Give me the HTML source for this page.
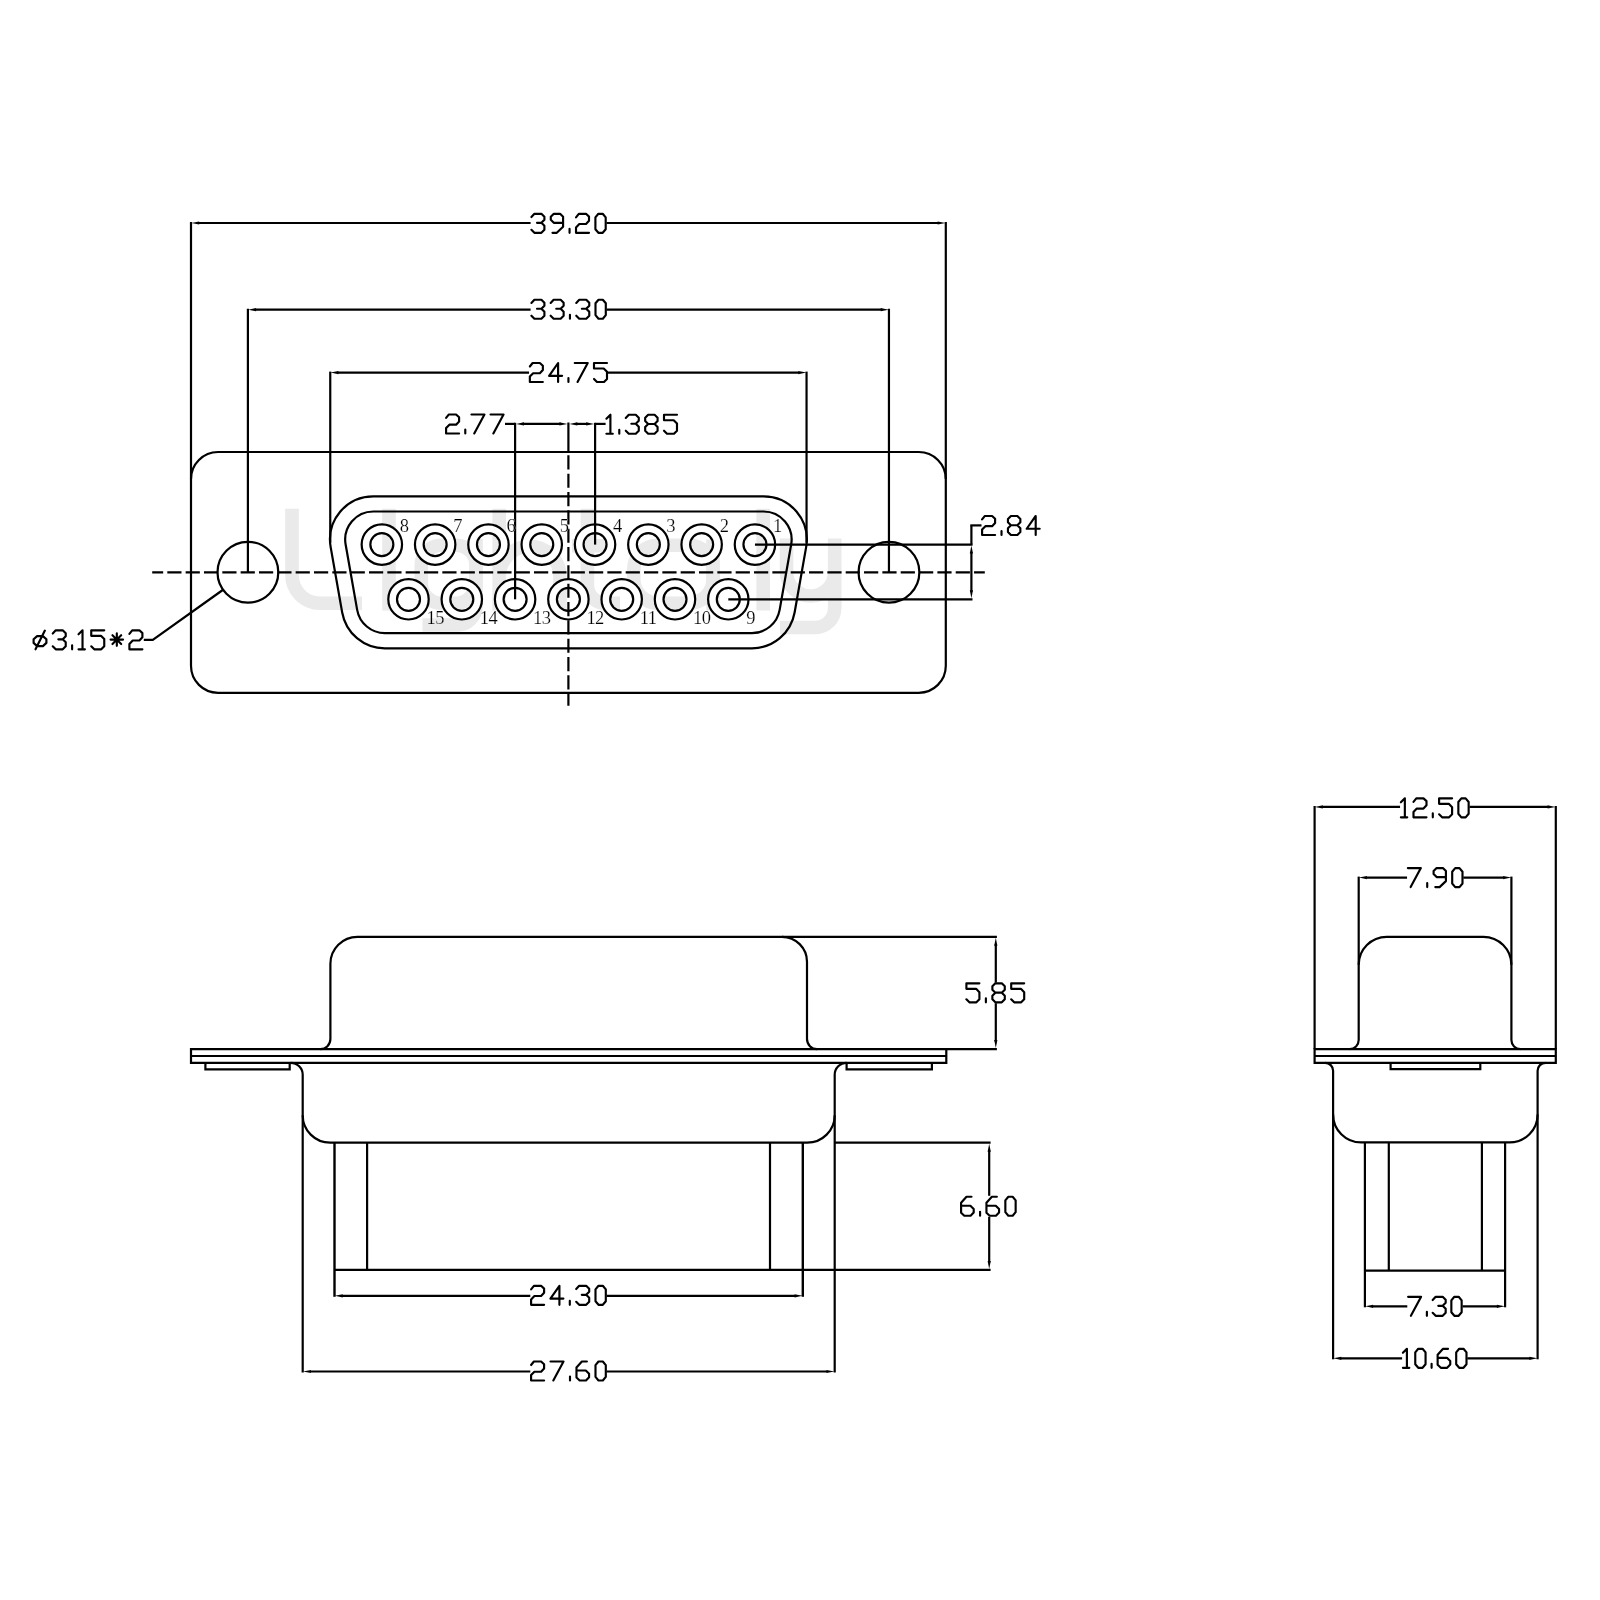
<!DOCTYPE html>
<html><head><meta charset="utf-8"><style>
html,body{margin:0;padding:0;background:#fff;}
body{width:1600px;height:1600px;overflow:hidden;}
svg{display:block;will-change:transform;}
</style></head><body>
<svg width="1600" height="1600" viewBox="0 0 1600 1600">
<rect width="1600" height="1600" fill="#fff"/>
<g fill="none" stroke="#eaeaea" stroke-width="13.6">
<path d="M292,508.75 L292,575 A28,28 0 0 0 320,603.2 L362,603.2"/>
<path d="M389,508.75 L389,610.5"/>
<path d="M476,539 L476,606 A19,19 0 0 1 457,625 L422.5,625"/>
<path d="M499.2,508.75 L499.2,610.5 M499.2,576.6 A30.4,30.4 0 0 1 560,576.6 L560,610.5"/>
<path d="M587.4,508.75 L587.4,585 A18,18 0 0 0 605.4,603.2 L620,603.2 M572,545.7 L614,545.7"/>
<path d="M713,539.5 L713,610.5"/>
<path d="M763.2,508.75 L763.2,610.5"/>
<path d="M786.5,538.6 L786.5,571.9 A24.1,24.1 0 0 0 834.7,571.9 M834.7,538.6 L834.7,608 A19.5,19.5 0 0 1 815.2,627.5 L780,627.5"/>
<rect x="421.3" y="545.2" width="54.7" height="58" rx="20" ry="20"/>
<rect x="633.8" y="545.2" width="79.2" height="58" rx="24" ry="24"/>
</g>
<path d="M361.65,544.6 a20.2,20.2 0 1 0 40.4,0 a20.2,20.2 0 1 0 -40.4,0 Z M370.35,544.6 a11.5,11.5 0 1 0 23,0 a11.5,11.5 0 1 0 -23,0 Z" fill="#fff" fill-rule="evenodd"/>
<path d="M414.95,544.6 a20.2,20.2 0 1 0 40.4,0 a20.2,20.2 0 1 0 -40.4,0 Z M423.65,544.6 a11.5,11.5 0 1 0 23,0 a11.5,11.5 0 1 0 -23,0 Z" fill="#fff" fill-rule="evenodd"/>
<path d="M468.25,544.6 a20.2,20.2 0 1 0 40.4,0 a20.2,20.2 0 1 0 -40.4,0 Z M476.95,544.6 a11.5,11.5 0 1 0 23,0 a11.5,11.5 0 1 0 -23,0 Z" fill="#fff" fill-rule="evenodd"/>
<path d="M521.55,544.6 a20.2,20.2 0 1 0 40.4,0 a20.2,20.2 0 1 0 -40.4,0 Z M530.25,544.6 a11.5,11.5 0 1 0 23,0 a11.5,11.5 0 1 0 -23,0 Z" fill="#fff" fill-rule="evenodd"/>
<path d="M574.85,544.6 a20.2,20.2 0 1 0 40.4,0 a20.2,20.2 0 1 0 -40.4,0 Z M583.55,544.6 a11.5,11.5 0 1 0 23,0 a11.5,11.5 0 1 0 -23,0 Z" fill="#fff" fill-rule="evenodd"/>
<path d="M628.15,544.6 a20.2,20.2 0 1 0 40.4,0 a20.2,20.2 0 1 0 -40.4,0 Z M636.85,544.6 a11.5,11.5 0 1 0 23,0 a11.5,11.5 0 1 0 -23,0 Z" fill="#fff" fill-rule="evenodd"/>
<path d="M681.45,544.6 a20.2,20.2 0 1 0 40.4,0 a20.2,20.2 0 1 0 -40.4,0 Z M690.15,544.6 a11.5,11.5 0 1 0 23,0 a11.5,11.5 0 1 0 -23,0 Z" fill="#fff" fill-rule="evenodd"/>
<path d="M734.75,544.6 a20.2,20.2 0 1 0 40.4,0 a20.2,20.2 0 1 0 -40.4,0 Z M743.45,544.6 a11.5,11.5 0 1 0 23,0 a11.5,11.5 0 1 0 -23,0 Z" fill="#fff" fill-rule="evenodd"/>
<path d="M388.3,599.3 a20.2,20.2 0 1 0 40.4,0 a20.2,20.2 0 1 0 -40.4,0 Z M397,599.3 a11.5,11.5 0 1 0 23,0 a11.5,11.5 0 1 0 -23,0 Z" fill="#fff" fill-rule="evenodd"/>
<path d="M441.6,599.3 a20.2,20.2 0 1 0 40.4,0 a20.2,20.2 0 1 0 -40.4,0 Z M450.3,599.3 a11.5,11.5 0 1 0 23,0 a11.5,11.5 0 1 0 -23,0 Z" fill="#fff" fill-rule="evenodd"/>
<path d="M494.9,599.3 a20.2,20.2 0 1 0 40.4,0 a20.2,20.2 0 1 0 -40.4,0 Z M503.6,599.3 a11.5,11.5 0 1 0 23,0 a11.5,11.5 0 1 0 -23,0 Z" fill="#fff" fill-rule="evenodd"/>
<path d="M548.2,599.3 a20.2,20.2 0 1 0 40.4,0 a20.2,20.2 0 1 0 -40.4,0 Z M556.9,599.3 a11.5,11.5 0 1 0 23,0 a11.5,11.5 0 1 0 -23,0 Z" fill="#fff" fill-rule="evenodd"/>
<path d="M601.5,599.3 a20.2,20.2 0 1 0 40.4,0 a20.2,20.2 0 1 0 -40.4,0 Z M610.2,599.3 a11.5,11.5 0 1 0 23,0 a11.5,11.5 0 1 0 -23,0 Z" fill="#fff" fill-rule="evenodd"/>
<path d="M654.8,599.3 a20.2,20.2 0 1 0 40.4,0 a20.2,20.2 0 1 0 -40.4,0 Z M663.5,599.3 a11.5,11.5 0 1 0 23,0 a11.5,11.5 0 1 0 -23,0 Z" fill="#fff" fill-rule="evenodd"/>
<path d="M708.1,599.3 a20.2,20.2 0 1 0 40.4,0 a20.2,20.2 0 1 0 -40.4,0 Z M716.8,599.3 a11.5,11.5 0 1 0 23,0 a11.5,11.5 0 1 0 -23,0 Z" fill="#fff" fill-rule="evenodd"/>
<g fill="none" stroke="#000" stroke-linecap="butt">
<path d="M218,452 L918.8,452 A27,27 0 0 1 945.8,479 L945.8,665.8 A27,27 0 0 1 918.8,692.8 L218,692.8 A27,27 0 0 1 191,665.8 L191,479 A27,27 0 0 1 218,452 Z" stroke-width="2.2"/>
<line x1="191" y1="222" x2="191" y2="479" stroke-width="2.2"/>
<line x1="945.8" y1="222" x2="945.8" y2="479" stroke-width="2.2"/>
<line x1="198.5" y1="223" x2="530.6" y2="223" stroke-width="2.2"/>
<line x1="606.5" y1="223" x2="938.3" y2="223" stroke-width="2.2"/>
<path d="M191.2,223 L199.2,221.4 L199.2,224.6 Z" fill="#000" stroke="none"/>
<path d="M945.6,223 L937.6,224.6 L937.6,221.4 Z" fill="#000" stroke="none"/>
<path d="M531.4,217 L534.4,213.8 L541.4,213.8 L544.4,216.8 L544.4,219.8 L541.4,222.8 L537,222.8 M541.4,222.8 L544.4,225.8 L544.4,229.8 L541.4,232.8 L534.4,232.8 L531.4,229.8 M563.09,222.8 L553.79,222.8 L550.79,219.8 L550.79,216.8 L553.79,213.8 L560.09,213.8 L563.09,216.8 L563.09,226.8 L556.79,232.8 L552.49,232.8 M569.55,228.8 L569.55,232.8 M576.01,217.3 L578.81,213.8 L586.01,213.8 L589.01,216.6 L589.01,220.8 L586.01,224 L579.31,224 L576.01,227.4 L576.01,232.8 L589.01,232.8 M598.4,213.8 L602.7,213.8 L605.7,217.4 L605.7,229.2 L602.7,232.8 L598.4,232.8 L595.4,229.2 L595.4,217.4 Z" stroke-width="2.15" stroke-linecap="round" stroke-linejoin="round"/>
<line x1="247.9" y1="308.7" x2="247.9" y2="572.2" stroke-width="2.2"/>
<line x1="888.95" y1="308.7" x2="888.95" y2="572.2" stroke-width="2.2"/>
<line x1="255.4" y1="309.7" x2="530.6" y2="309.7" stroke-width="2.2"/>
<line x1="606.6" y1="309.7" x2="881.45" y2="309.7" stroke-width="2.2"/>
<path d="M248.1,309.7 L256.1,308.1 L256.1,311.3 Z" fill="#000" stroke="none"/>
<path d="M888.75,309.7 L880.75,311.3 L880.75,308.1 Z" fill="#000" stroke="none"/>
<path d="M531.4,302.9 L534.4,299.7 L541.4,299.7 L544.4,302.7 L544.4,305.7 L541.4,308.7 L537,308.7 M541.4,308.7 L544.4,311.7 L544.4,315.7 L541.4,318.7 L534.4,318.7 L531.4,315.7 M550.64,302.9 L553.64,299.7 L560.64,299.7 L563.64,302.7 L563.64,305.7 L560.64,308.7 L556.24,308.7 M560.64,308.7 L563.64,311.7 L563.64,315.7 L560.64,318.7 L553.64,318.7 L550.64,315.7 M569.95,314.7 L569.95,318.7 M576.26,302.9 L579.26,299.7 L586.26,299.7 L589.26,302.7 L589.26,305.7 L586.26,308.7 L581.86,308.7 M586.26,308.7 L589.26,311.7 L589.26,315.7 L586.26,318.7 L579.26,318.7 L576.26,315.7 M598.5,299.7 L602.8,299.7 L605.8,303.3 L605.8,315.1 L602.8,318.7 L598.5,318.7 L595.5,315.1 L595.5,303.3 Z" stroke-width="2.15" stroke-linecap="round" stroke-linejoin="round"/>
<circle cx="247.9" cy="572.2" r="30.4" stroke-width="2.2"/>
<circle cx="888.95" cy="572.2" r="30.4" stroke-width="2.2"/>
<path d="M373.3,496.3 A43.3,43.3 0 0 0 330.66,547.12 L342.19,612.52 A43.3,43.3 0 0 0 384.83,648.3 L751.97,648.3 A43.3,43.3 0 0 0 794.61,612.52 L806.14,547.12 A43.3,43.3 0 0 0 763.5,496.3 Z" stroke-width="2.2"/>
<path d="M373.3,511.5 A28.1,28.1 0 0 0 345.63,544.48 L357.16,609.88 A28.1,28.1 0 0 0 384.83,633.1 L751.97,633.1 A28.1,28.1 0 0 0 779.64,609.88 L791.17,544.48 A28.1,28.1 0 0 0 763.5,511.5 Z" stroke-width="2.2"/>
<line x1="330.25" y1="371.6" x2="330.25" y2="542.6" stroke-width="2.2"/>
<line x1="806.55" y1="371.6" x2="806.55" y2="542.6" stroke-width="2.2"/>
<line x1="337.75" y1="372.6" x2="529.05" y2="372.6" stroke-width="2.2"/>
<line x1="607.8" y1="372.6" x2="799.05" y2="372.6" stroke-width="2.2"/>
<path d="M330.45,372.6 L338.45,371 L338.45,374.2 Z" fill="#000" stroke="none"/>
<path d="M806.35,372.6 L798.35,374.2 L798.35,371 Z" fill="#000" stroke="none"/>
<path d="M529.85,366.5 L532.65,363 L539.85,363 L542.85,365.8 L542.85,370 L539.85,373.2 L533.15,373.2 L529.85,376.6 L529.85,382 L542.85,382 M558.1,382 L558.1,363 L549.1,375.8 L562.1,375.8 M568.43,378 L568.43,382 M574.75,363 L587.75,363 L577.55,382 M607,363 L594,363 L594,368.5 L603.7,368.5 L607,371.8 L607,379 L604,382 L597,382 L594,379" stroke-width="2.15" stroke-linecap="round" stroke-linejoin="round"/>
<circle cx="381.85" cy="544.6" r="20.2" stroke-width="2.2"/>
<circle cx="381.85" cy="544.6" r="11.5" stroke-width="2.2"/>
<circle cx="435.15" cy="544.6" r="20.2" stroke-width="2.2"/>
<circle cx="435.15" cy="544.6" r="11.5" stroke-width="2.2"/>
<circle cx="488.45" cy="544.6" r="20.2" stroke-width="2.2"/>
<circle cx="488.45" cy="544.6" r="11.5" stroke-width="2.2"/>
<circle cx="541.75" cy="544.6" r="20.2" stroke-width="2.2"/>
<circle cx="541.75" cy="544.6" r="11.5" stroke-width="2.2"/>
<circle cx="595.05" cy="544.6" r="20.2" stroke-width="2.2"/>
<circle cx="595.05" cy="544.6" r="11.5" stroke-width="2.2"/>
<circle cx="648.35" cy="544.6" r="20.2" stroke-width="2.2"/>
<circle cx="648.35" cy="544.6" r="11.5" stroke-width="2.2"/>
<circle cx="701.65" cy="544.6" r="20.2" stroke-width="2.2"/>
<circle cx="701.65" cy="544.6" r="11.5" stroke-width="2.2"/>
<circle cx="754.95" cy="544.6" r="20.2" stroke-width="2.2"/>
<circle cx="754.95" cy="544.6" r="11.5" stroke-width="2.2"/>
<circle cx="408.5" cy="599.3" r="20.2" stroke-width="2.2"/>
<circle cx="408.5" cy="599.3" r="11.5" stroke-width="2.2"/>
<circle cx="461.8" cy="599.3" r="20.2" stroke-width="2.2"/>
<circle cx="461.8" cy="599.3" r="11.5" stroke-width="2.2"/>
<circle cx="515.1" cy="599.3" r="20.2" stroke-width="2.2"/>
<circle cx="515.1" cy="599.3" r="11.5" stroke-width="2.2"/>
<circle cx="568.4" cy="599.3" r="20.2" stroke-width="2.2"/>
<circle cx="568.4" cy="599.3" r="11.5" stroke-width="2.2"/>
<circle cx="621.7" cy="599.3" r="20.2" stroke-width="2.2"/>
<circle cx="621.7" cy="599.3" r="11.5" stroke-width="2.2"/>
<circle cx="675" cy="599.3" r="20.2" stroke-width="2.2"/>
<circle cx="675" cy="599.3" r="11.5" stroke-width="2.2"/>
<circle cx="728.3" cy="599.3" r="20.2" stroke-width="2.2"/>
<circle cx="728.3" cy="599.3" r="11.5" stroke-width="2.2"/>
<line x1="152.2" y1="572.4" x2="984.8" y2="572.4" stroke-width="2.2" stroke-dasharray="14.2 4.135" stroke-dashoffset="3.23"/>
<line x1="568.4" y1="422.5" x2="568.4" y2="452" stroke-width="2.2"/>
<line x1="568.4" y1="455.3" x2="568.4" y2="705.8" stroke-width="2.2" stroke-dasharray="14.2 4.135"/>
<line x1="515.1" y1="422.8" x2="515.1" y2="599.3" stroke-width="2.2"/>
<line x1="595.1" y1="422.8" x2="595.1" y2="544.6" stroke-width="2.2"/>
<line x1="505" y1="423.9" x2="515.1" y2="423.9" stroke-width="2.2"/>
<line x1="522.5" y1="423.9" x2="560.9" y2="423.9" stroke-width="2.2"/>
<line x1="575.9" y1="423.9" x2="587.6" y2="423.9" stroke-width="2.2"/>
<line x1="595.1" y1="423.9" x2="605.6" y2="423.9" stroke-width="2.2"/>
<path d="M516,423.9 L524,422.3 L524,425.5 Z" fill="#000" stroke="none"/>
<path d="M567.4,423.9 L559.4,425.5 L559.4,422.3 Z" fill="#000" stroke="none"/>
<path d="M569.4,423.9 L577.4,422.3 L577.4,425.5 Z" fill="#000" stroke="none"/>
<path d="M594.2,423.9 L586.2,425.5 L586.2,422.3 Z" fill="#000" stroke="none"/>
<path d="M446.1,417.95 L448.9,414.45 L456.1,414.45 L459.1,417.25 L459.1,421.45 L456.1,424.65 L449.4,424.65 L446.1,428.05 L446.1,433.45 L459.1,433.45 M465.28,429.45 L465.28,433.45 M471.45,414.45 L484.45,414.45 L474.25,433.45 M490.55,414.45 L503.55,414.45 L493.35,433.45" stroke-width="2.15" stroke-linecap="round" stroke-linejoin="round"/>
<path d="M606.4,418.7 L610.4,414.7 L610.4,433.7 M606.4,433.7 L612.8,433.7 M619.28,429.7 L619.28,433.7 M625.77,417.9 L628.77,414.7 L635.77,414.7 L638.77,417.7 L638.77,420.7 L635.77,423.7 L631.37,423.7 M635.77,423.7 L638.77,426.7 L638.77,430.7 L635.77,433.7 L628.77,433.7 L625.77,430.7 M648.18,414.7 L654.58,414.7 L657.58,417.7 L657.58,421 L654.58,424 L648.18,424 L645.18,421 L645.18,417.7 Z M648.18,424 L645.18,427 L645.18,430.7 L648.18,433.7 L654.58,433.7 L657.58,430.7 L657.58,427 L654.58,424 M677,414.7 L664,414.7 L664,420.2 L673.7,420.2 L677,423.5 L677,430.7 L674,433.7 L667,433.7 L664,430.7" stroke-width="2.15" stroke-linecap="round" stroke-linejoin="round"/>
<line x1="754.95" y1="544.6" x2="972.5" y2="544.6" stroke-width="2.2"/>
<line x1="728.3" y1="599.3" x2="972.5" y2="599.3" stroke-width="2.2"/>
<line x1="971.4" y1="525.4" x2="971.4" y2="544.6" stroke-width="2.2"/>
<line x1="971.4" y1="552.1" x2="971.4" y2="591.8" stroke-width="2.2"/>
<line x1="970.3" y1="525.4" x2="981.5" y2="525.4" stroke-width="2.2"/>
<path d="M971.4,545.6 L973,553.6 L969.8,553.6 Z" fill="#000" stroke="none"/>
<path d="M971.4,598.3 L969.8,590.3 L973,590.3 Z" fill="#000" stroke="none"/>
<path d="M982.1,519.45 L984.9,515.95 L992.1,515.95 L995.1,518.75 L995.1,522.95 L992.1,526.15 L985.4,526.15 L982.1,529.55 L982.1,534.95 L995.1,534.95 M1001.52,530.95 L1001.52,534.95 M1010.95,515.95 L1017.35,515.95 L1020.35,518.95 L1020.35,522.25 L1017.35,525.25 L1010.95,525.25 L1007.95,522.25 L1007.95,518.95 Z M1010.95,525.25 L1007.95,528.25 L1007.95,531.95 L1010.95,534.95 L1017.35,534.95 L1020.35,531.95 L1020.35,528.25 L1017.35,525.25 M1035.7,534.95 L1035.7,515.95 L1026.7,528.75 L1039.7,528.75" stroke-width="2.15" stroke-linecap="round" stroke-linejoin="round"/>
<path d="M223.09,589.77 L152.8,639.8 L143.8,639.8" stroke-width="2.2" stroke-linejoin="round"/>
<path d="M37.1,636.1 L42.9,636.1 L46.4,639.3 L46.4,642.9 L42.9,646.1 L37.1,646.1 L33.6,642.9 L33.6,639.3 Z M35.5,649.3 L44.9,630.6 M52.73,633.5 L55.73,630.3 L62.73,630.3 L65.73,633.3 L65.73,636.3 L62.73,639.3 L58.33,639.3 M62.73,639.3 L65.73,642.3 L65.73,646.3 L62.73,649.3 L55.73,649.3 L52.73,646.3 M72.12,645.3 L72.12,649.3 M78.52,634.3 L82.52,630.3 L82.52,649.3 M78.52,649.3 L84.92,649.3 M104.25,630.3 L91.25,630.3 L91.25,635.8 L100.95,635.8 L104.25,639.1 L104.25,646.3 L101.25,649.3 L94.25,649.3 L91.25,646.3 M116.82,633.4 L116.82,645.8 M110.57,639.6 L123.07,639.6 M112.47,635.2 L121.17,644 M121.17,635.2 L112.47,644 M129.4,633.8 L132.2,630.3 L139.4,630.3 L142.4,633.1 L142.4,637.3 L139.4,640.5 L132.7,640.5 L129.4,643.9 L129.4,649.3 L142.4,649.3" stroke-width="2.15" stroke-linecap="round" stroke-linejoin="round"/>
<path d="M320.4,1049.1 A10,10 0 0 0 330.4,1039.1 L330.4,963.8 A27,27 0 0 1 357.4,936.8 L782,936.8 A25,25 0 0 1 807,961.8 L807,1039.1 A10,10 0 0 0 817,1049.1" stroke-width="2.2"/>
<path d="M191,1049.1 L946.3,1049.1 L946.3,1062.8 L191,1062.8 Z" stroke-width="2.2"/>
<line x1="191" y1="1056" x2="946.3" y2="1056" stroke-width="2.2"/>
<path d="M205.4,1062.8 L205.4,1069.3 L289.7,1069.3 L289.7,1062.8" stroke-width="2.2"/>
<path d="M846.6,1062.8 L846.6,1069.3 L931.9,1069.3 L931.9,1062.8" stroke-width="2.2"/>
<path d="M290.7,1062.8 A12,12 0 0 1 302.7,1074.8 L302.7,1115.2 A27.5,27.5 0 0 0 330.2,1142.7 L807.2,1142.7 A27.5,27.5 0 0 0 834.7,1115.2 L834.7,1074.8 A12,12 0 0 1 846.7,1062.8" stroke-width="2.2"/>
<line x1="302.7" y1="1115.2" x2="302.7" y2="1372.6" stroke-width="2.2"/>
<line x1="834.7" y1="1115.2" x2="834.7" y2="1372.6" stroke-width="2.2"/>
<line x1="310.2" y1="1371.5" x2="530.3" y2="1371.5" stroke-width="2.2"/>
<line x1="606.6" y1="1371.5" x2="827.2" y2="1371.5" stroke-width="2.2"/>
<path d="M302.9,1371.5 L310.9,1369.9 L310.9,1373.1 Z" fill="#000" stroke="none"/>
<path d="M834.5,1371.5 L826.5,1373.1 L826.5,1369.9 Z" fill="#000" stroke="none"/>
<path d="M531.1,1365 L533.9,1361.5 L541.1,1361.5 L544.1,1364.3 L544.1,1368.5 L541.1,1371.7 L534.4,1371.7 L531.1,1375.1 L531.1,1380.5 L544.1,1380.5 M550.52,1361.5 L563.52,1361.5 L553.32,1380.5 M570,1376.5 L570,1380.5 M586.88,1361.5 L581.88,1361.5 L576.48,1367.5 L576.48,1377.5 L579.68,1380.5 L585.98,1380.5 L589.08,1377.3 L589.08,1373.7 L585.78,1370.5 L576.48,1370.5 M598.5,1361.5 L602.8,1361.5 L605.8,1365.1 L605.8,1376.9 L602.8,1380.5 L598.5,1380.5 L595.5,1376.9 L595.5,1365.1 Z" stroke-width="2.15" stroke-linecap="round" stroke-linejoin="round"/>
<line x1="334.5" y1="1142.7" x2="334.5" y2="1296.8" stroke-width="2.4"/>
<line x1="802.8" y1="1142.7" x2="802.8" y2="1296.8" stroke-width="2.4"/>
<line x1="367.1" y1="1142.7" x2="367.1" y2="1269.9" stroke-width="2.2"/>
<line x1="770" y1="1142.7" x2="770" y2="1269.9" stroke-width="2.2"/>
<line x1="334.5" y1="1269.9" x2="990.6" y2="1269.9" stroke-width="2.2"/>
<line x1="834.7" y1="1142.7" x2="990.6" y2="1142.7" stroke-width="2.2"/>
<line x1="342" y1="1295.8" x2="530.3" y2="1295.8" stroke-width="2.2"/>
<line x1="606.6" y1="1295.8" x2="795.3" y2="1295.8" stroke-width="2.2"/>
<path d="M334.7,1295.8 L342.7,1294.2 L342.7,1297.4 Z" fill="#000" stroke="none"/>
<path d="M802.6,1295.8 L794.6,1297.4 L794.6,1294.2 Z" fill="#000" stroke="none"/>
<path d="M531.1,1289.3 L533.9,1285.8 L541.1,1285.8 L544.1,1288.6 L544.1,1292.8 L541.1,1296 L534.4,1296 L531.1,1299.4 L531.1,1304.8 L544.1,1304.8 M559.41,1304.8 L559.41,1285.8 L550.41,1298.6 L563.41,1298.6 M569.8,1300.8 L569.8,1304.8 M576.19,1289 L579.19,1285.8 L586.19,1285.8 L589.19,1288.8 L589.19,1291.8 L586.19,1294.8 L581.79,1294.8 M586.19,1294.8 L589.19,1297.8 L589.19,1301.8 L586.19,1304.8 L579.19,1304.8 L576.19,1301.8 M598.5,1285.8 L602.8,1285.8 L605.8,1289.4 L605.8,1301.2 L602.8,1304.8 L598.5,1304.8 L595.5,1301.2 L595.5,1289.4 Z" stroke-width="2.15" stroke-linecap="round" stroke-linejoin="round"/>
<line x1="989.2" y1="1150.2" x2="989.2" y2="1195.8" stroke-width="2.2"/>
<line x1="989.2" y1="1216.8" x2="989.2" y2="1262.4" stroke-width="2.2"/>
<path d="M989.2,1143.7 L990.8,1151.7 L987.6,1151.7 Z" fill="#000" stroke="none"/>
<path d="M989.2,1268.9 L987.6,1260.9 L990.8,1260.9 Z" fill="#000" stroke="none"/>
<path d="M971.5,1196.75 L966.5,1196.75 L961.1,1202.75 L961.1,1212.75 L964.3,1215.75 L970.6,1215.75 L973.7,1212.55 L973.7,1208.95 L970.4,1205.75 L961.1,1205.75 M980.07,1211.75 L980.07,1215.75 M996.85,1196.75 L991.85,1196.75 L986.45,1202.75 L986.45,1212.75 L989.65,1215.75 L995.95,1215.75 L999.05,1212.55 L999.05,1208.95 L995.75,1205.75 L986.45,1205.75 M1008.35,1196.75 L1012.65,1196.75 L1015.65,1200.35 L1015.65,1212.15 L1012.65,1215.75 L1008.35,1215.75 L1005.35,1212.15 L1005.35,1200.35 Z" stroke-width="2.15" stroke-linecap="round" stroke-linejoin="round"/>
<line x1="782" y1="936.8" x2="996.9" y2="936.8" stroke-width="2.2"/>
<line x1="946.3" y1="1049.1" x2="996.9" y2="1049.1" stroke-width="2.2"/>
<line x1="995.8" y1="944.3" x2="995.8" y2="982.6" stroke-width="2.2"/>
<line x1="995.8" y1="1003.2" x2="995.8" y2="1041.6" stroke-width="2.2"/>
<path d="M995.8,937.8 L997.4,945.8 L994.2,945.8 Z" fill="#000" stroke="none"/>
<path d="M995.8,1048.1 L994.2,1040.1 L997.4,1040.1 Z" fill="#000" stroke="none"/>
<path d="M979.4,983.35 L966.4,983.35 L966.4,988.85 L976.1,988.85 L979.4,992.15 L979.4,999.35 L976.4,1002.35 L969.4,1002.35 L966.4,999.35 M985.89,998.35 L985.89,1002.35 M995.38,983.35 L1001.78,983.35 L1004.78,986.35 L1004.78,989.65 L1001.78,992.65 L995.38,992.65 L992.38,989.65 L992.38,986.35 Z M995.38,992.65 L992.38,995.65 L992.38,999.35 L995.38,1002.35 L1001.78,1002.35 L1004.78,999.35 L1004.78,995.65 L1001.78,992.65 M1024.2,983.35 L1011.2,983.35 L1011.2,988.85 L1020.9,988.85 L1024.2,992.15 L1024.2,999.35 L1021.2,1002.35 L1014.2,1002.35 L1011.2,999.35" stroke-width="2.15" stroke-linecap="round" stroke-linejoin="round"/>
<line x1="1314.6" y1="806" x2="1314.6" y2="1049.1" stroke-width="2.2"/>
<line x1="1555.8" y1="806" x2="1555.8" y2="1049.1" stroke-width="2.2"/>
<line x1="1322.1" y1="806.9" x2="1400.05" y2="806.9" stroke-width="2.2"/>
<line x1="1469.45" y1="806.9" x2="1548.3" y2="806.9" stroke-width="2.2"/>
<path d="M1314.8,806.9 L1322.8,805.3 L1322.8,808.5 Z" fill="#000" stroke="none"/>
<path d="M1555.6,806.9 L1547.6,808.5 L1547.6,805.3 Z" fill="#000" stroke="none"/>
<path d="M1400.85,802.35 L1404.85,798.35 L1404.85,817.35 M1400.85,817.35 L1407.25,817.35 M1413.49,801.85 L1416.29,798.35 L1423.49,798.35 L1426.49,801.15 L1426.49,805.35 L1423.49,808.55 L1416.79,808.55 L1413.49,811.95 L1413.49,817.35 L1426.49,817.35 M1432.8,813.35 L1432.8,817.35 M1452.11,798.35 L1439.11,798.35 L1439.11,803.85 L1448.81,803.85 L1452.11,807.15 L1452.11,814.35 L1449.11,817.35 L1442.11,817.35 L1439.11,814.35 M1461.35,798.35 L1465.65,798.35 L1468.65,801.95 L1468.65,813.75 L1465.65,817.35 L1461.35,817.35 L1458.35,813.75 L1458.35,801.95 Z" stroke-width="2.15" stroke-linecap="round" stroke-linejoin="round"/>
<line x1="1358.7" y1="876.6" x2="1358.7" y2="964.8" stroke-width="2.2"/>
<line x1="1511.4" y1="876.6" x2="1511.4" y2="964.8" stroke-width="2.2"/>
<line x1="1366.2" y1="877.6" x2="1407.05" y2="877.6" stroke-width="2.2"/>
<line x1="1463.3" y1="877.6" x2="1503.9" y2="877.6" stroke-width="2.2"/>
<path d="M1358.9,877.6 L1366.9,876 L1366.9,879.2 Z" fill="#000" stroke="none"/>
<path d="M1511.2,877.6 L1503.2,879.2 L1503.2,876 Z" fill="#000" stroke="none"/>
<path d="M1407.85,868.1 L1420.85,868.1 L1410.65,887.1 M1427.22,883.1 L1427.22,887.1 M1445.9,877.1 L1436.6,877.1 L1433.6,874.1 L1433.6,871.1 L1436.6,868.1 L1442.9,868.1 L1445.9,871.1 L1445.9,881.1 L1439.6,887.1 L1435.3,887.1 M1455.2,868.1 L1459.5,868.1 L1462.5,871.7 L1462.5,883.5 L1459.5,887.1 L1455.2,887.1 L1452.2,883.5 L1452.2,871.7 Z" stroke-width="2.15" stroke-linecap="round" stroke-linejoin="round"/>
<path d="M1349.7,1049.1 A9,9 0 0 0 1358.7,1040.1 L1358.7,964.8 A28,28 0 0 1 1386.7,936.8 L1483.4,936.8 A28,28 0 0 1 1511.4,964.8 L1511.4,1040.1 A9,9 0 0 0 1520.4,1049.1" stroke-width="2.2"/>
<path d="M1314.6,1049.1 L1555.8,1049.1 L1555.8,1062.8 L1314.6,1062.8 Z" stroke-width="2.2"/>
<line x1="1314.6" y1="1056" x2="1555.8" y2="1056" stroke-width="2.2"/>
<path d="M1390.6,1062.8 L1390.6,1069.2 L1480.3,1069.2 L1480.3,1062.8" stroke-width="2.2"/>
<path d="M1325.1,1062.8 A8,8 0 0 1 1333.1,1070.8 L1333.1,1114.4 A28,28 0 0 0 1361.1,1142.4 L1509.6,1142.4 A28,28 0 0 0 1537.6,1114.4 L1537.6,1070.8 A8,8 0 0 1 1545.6,1062.8" stroke-width="2.2"/>
<line x1="1333.1" y1="1114.4" x2="1333.1" y2="1359.3" stroke-width="2.2"/>
<line x1="1537.6" y1="1114.4" x2="1537.6" y2="1359.3" stroke-width="2.2"/>
<line x1="1340.6" y1="1358.3" x2="1402.1" y2="1358.3" stroke-width="2.2"/>
<line x1="1467.3" y1="1358.3" x2="1530.1" y2="1358.3" stroke-width="2.2"/>
<path d="M1333.3,1358.3 L1341.3,1356.7 L1341.3,1359.9 Z" fill="#000" stroke="none"/>
<path d="M1537.4,1358.3 L1529.4,1359.9 L1529.4,1356.7 Z" fill="#000" stroke="none"/>
<path d="M1402.9,1352.8 L1406.9,1348.8 L1406.9,1367.8 M1402.9,1367.8 L1409.3,1367.8 M1418.26,1348.8 L1422.56,1348.8 L1425.56,1352.4 L1425.56,1364.2 L1422.56,1367.8 L1418.26,1367.8 L1415.26,1364.2 L1415.26,1352.4 Z M1431.6,1363.8 L1431.6,1367.8 M1448.04,1348.8 L1443.04,1348.8 L1437.64,1354.8 L1437.64,1364.8 L1440.84,1367.8 L1447.14,1367.8 L1450.24,1364.6 L1450.24,1361 L1446.94,1357.8 L1437.64,1357.8 M1459.2,1348.8 L1463.5,1348.8 L1466.5,1352.4 L1466.5,1364.2 L1463.5,1367.8 L1459.2,1367.8 L1456.2,1364.2 L1456.2,1352.4 Z" stroke-width="2.15" stroke-linecap="round" stroke-linejoin="round"/>
<line x1="1364.9" y1="1142.4" x2="1364.9" y2="1307.3" stroke-width="2.2"/>
<line x1="1505.1" y1="1142.4" x2="1505.1" y2="1307.3" stroke-width="2.2"/>
<line x1="1388.8" y1="1142.4" x2="1388.8" y2="1270.6" stroke-width="2.2"/>
<line x1="1481.9" y1="1142.4" x2="1481.9" y2="1270.6" stroke-width="2.2"/>
<line x1="1364.9" y1="1270.6" x2="1505.1" y2="1270.6" stroke-width="2.2"/>
<line x1="1372.4" y1="1306.3" x2="1407.3" y2="1306.3" stroke-width="2.2"/>
<line x1="1462.45" y1="1306.3" x2="1497.6" y2="1306.3" stroke-width="2.2"/>
<path d="M1365.1,1306.3 L1373.1,1304.7 L1373.1,1307.9 Z" fill="#000" stroke="none"/>
<path d="M1504.9,1306.3 L1496.9,1307.9 L1496.9,1304.7 Z" fill="#000" stroke="none"/>
<path d="M1408.1,1296.8 L1421.1,1296.8 L1410.9,1315.8 M1426.88,1311.8 L1426.88,1315.8 M1432.67,1300 L1435.67,1296.8 L1442.67,1296.8 L1445.67,1299.8 L1445.67,1302.8 L1442.67,1305.8 L1438.27,1305.8 M1442.67,1305.8 L1445.67,1308.8 L1445.67,1312.8 L1442.67,1315.8 L1435.67,1315.8 L1432.67,1312.8 M1454.35,1296.8 L1458.65,1296.8 L1461.65,1300.4 L1461.65,1312.2 L1458.65,1315.8 L1454.35,1315.8 L1451.35,1312.2 L1451.35,1300.4 Z" stroke-width="2.15" stroke-linecap="round" stroke-linejoin="round"/>
</g>
<g font-family="Liberation Serif" font-size="18.5" letter-spacing="-0.6" fill="#000" stroke="#fff" stroke-width="0.2">
<text x="399.85" y="531.8">8</text>
<text x="453.15" y="531.8">7</text>
<text x="506.45" y="531.8">6</text>
<text x="559.75" y="531.8">5</text>
<text x="613.05" y="531.8">4</text>
<text x="666.35" y="531.8">3</text>
<text x="719.65" y="531.8">2</text>
<text x="772.95" y="531.8">1</text>
<text x="426.5" y="624.1">15</text>
<text x="479.8" y="624.1">14</text>
<text x="533.1" y="624.1">13</text>
<text x="586.4" y="624.1">12</text>
<text x="639.7" y="624.1">11</text>
<text x="693" y="624.1">10</text>
<text x="746.3" y="624.1">9</text>
</g>
</svg>
</body></html>
